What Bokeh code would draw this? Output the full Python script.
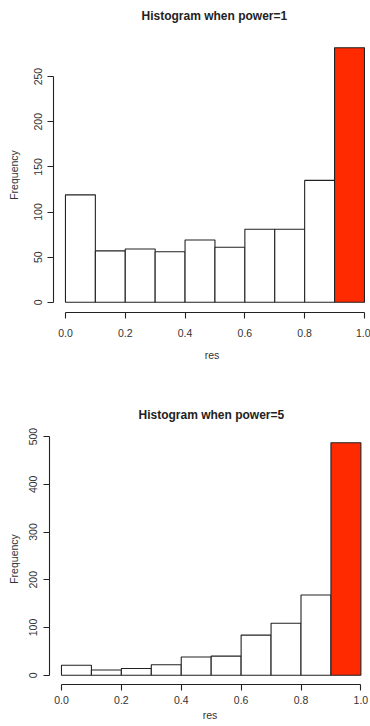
from bokeh.plotting import figure
from bokeh.models import Range1d, FixedTicker, PrintfTickFormatter, Title
from bokeh.embed import file_html
from bokeh.resources import INLINE

# ---- data ----
bin_edges = [0.0, 0.1, 0.2, 0.3, 0.4, 0.5, 0.6, 0.7, 0.8, 0.9, 1.0]
counts_power1 = [119, 57, 59, 56, 69, 61, 81, 81, 135, 282]
counts_power5 = [21, 11, 14, 22, 38, 40, 84, 109, 168, 487]
x_ticks = [0.0, 0.2, 0.4, 0.6, 0.8, 1.0]
y_ticks_power1 = [0, 50, 100, 150, 200, 250]
y_ticks_power5 = [0, 100, 200, 300, 400, 500]
titles = ["Histogram when power=1", "Histogram when power=5"]
x_label = "res"
y_label = "Frequency"

FONT = "Liberation Sans"
INK = "#222222"
RED = "#ff2a00"


def make_hist(counts, yticks, title, width, height, border_left, border_top,
              border_bottom, x_end, spacer_standoff, title_offset,
              tick_standoff, label_standoff, xtick_standoff, xlabel_standoff):
    ymax = max(counts)
    pad_y = 0.04 * ymax
    p = figure(width=width, height=height, output_backend="svg",
               toolbar_location=None, tools="", title=None,
               x_range=Range1d(-0.04, x_end),
               y_range=Range1d(-pad_y, ymax + pad_y))
    p.min_border_left = border_left
    p.min_border_right = 0
    p.min_border_top = border_top
    p.min_border_bottom = border_bottom
    p.outline_line_color = None
    p.grid.visible = False
    p.background_fill_color = "white"
    p.border_fill_color = "white"

    n = len(counts)
    colors = ["white"] * (n - 1) + [RED]
    p.quad(left=bin_edges[:-1], right=bin_edges[1:], bottom=0, top=counts,
           fill_color=colors, line_color=INK, line_width=1.1)

    # spacer between frame and title
    p.add_layout(Title(text=" ", text_font_size="1px",
                       standoff=spacer_standoff), "above")
    p.add_layout(Title(text=title, align="left", offset=title_offset,
                       text_font=FONT, text_font_size="12px",
                       text_font_style="bold", text_color=INK,
                       standoff=2), "above")

    xa = p.xaxis[0]
    xa.ticker = FixedTicker(ticks=x_ticks)
    xa.formatter = PrintfTickFormatter(format="%.1f")
    xa.bounds = (x_ticks[0], x_ticks[-1])
    xa.axis_label = x_label
    xa.major_label_standoff = xtick_standoff
    xa.axis_label_standoff = xlabel_standoff

    ya = p.yaxis[0]
    ya.ticker = FixedTicker(ticks=yticks)
    ya.bounds = (yticks[0], yticks[-1])
    ya.axis_label = y_label
    ya.major_label_orientation = "vertical"
    ya.major_label_standoff = tick_standoff
    ya.axis_label_standoff = label_standoff

    for ax in (xa, ya):
        ax.axis_line_color = INK
        ax.axis_line_width = 1.1
        ax.major_tick_line_color = INK
        ax.major_tick_line_width = 1.1
        ax.major_tick_in = 0
        ax.major_tick_out = 6
        ax.minor_tick_line_color = None
        ax.major_label_text_font = FONT
        ax.major_label_text_font_size = "10.5px"
        ax.major_label_text_color = "#333333"
        ax.axis_label_text_font = FONT
        ax.axis_label_text_font_size = "10.5px"
        ax.axis_label_text_font_style = "normal"
        ax.axis_label_text_color = "#333333"
    return p


p1 = make_hist(counts_power1, y_ticks_power1, titles[0],
               width=370, height=370, border_left=53, border_top=37,
               border_bottom=58, x_end=1.0202, spacer_standoff=11,
               title_offset=88, tick_standoff=5, label_standoff=12,
               xtick_standoff=10, xlabel_standoff=9)
p2 = make_hist(counts_power5, y_ticks_power5, titles[1],
               width=370, height=356, border_left=49, border_top=63,
               border_bottom=42, x_end=1.0321, spacer_standoff=8,
               title_offset=89, tick_standoff=6, label_standoff=7,
               xtick_standoff=5, xlabel_standoff=2)

# two independent roots, stacked on the page (no frame alignment)
open("out.html", "w").write(file_html([p1, p2], INLINE))
